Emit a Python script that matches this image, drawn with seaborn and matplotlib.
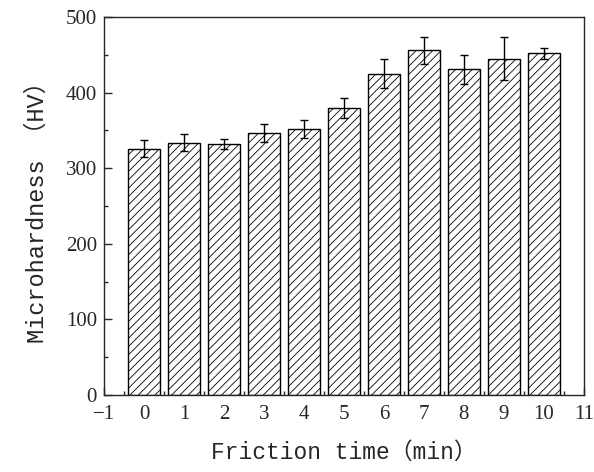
import matplotlib
matplotlib.use('Agg')
import matplotlib.pyplot as plt
from matplotlib.ticker import MultipleLocator
import seaborn as sns
import pandas as pd

# friction time (min) and measured microhardness (HV)
times = [0, 1, 2, 3, 4, 5, 6, 7, 8, 9, 10]
hardness = [326, 334, 332, 347, 352, 380, 425, 456, 431, 445, 452]
errors = [11, 11, 6, 12, 12, 13, 19, 18, 19, 28, 7]

df = pd.DataFrame({'time': times, 'hv': hardness})

sns.set_style('ticks')
plt.rcParams['font.family'] = ['Liberation Serif', 'Noto Sans CJK SC']
plt.rcParams['hatch.linewidth'] = 0.6

fig = plt.figure(figsize=(5.94, 4.72), dpi=100)
ax = fig.add_axes([0.175, 0.163, 0.808, 0.801])

sns.barplot(data=df, x='time', y='hv', native_scale=True, color='white',
            edgecolor='black', linewidth=1.0, width=0.8, hatch='////', ax=ax)
ax.errorbar(times, hardness, yerr=errors, fmt='none', ecolor='black',
            elinewidth=1.0, capsize=3, capthick=1.0)

ax.set_xlim(-1, 11)
ax.set_ylim(0, 500)
ax.set_xticks(range(-1, 12))
ax.set_xticklabels(['\u22121'] + [str(i) for i in range(0, 12)])
ax.xaxis.set_minor_locator(MultipleLocator(0.5))
ax.yaxis.set_major_locator(MultipleLocator(100))
ax.yaxis.set_minor_locator(MultipleLocator(50))
ax.tick_params(which='both', direction='in', labelsize=15, width=1.0)
ax.tick_params(which='major', length=6)
ax.tick_params(which='minor', length=3)
ax.tick_params(axis='x', which='major', pad=7)
ax.tick_params(axis='y', which='major', pad=5)
for s in ax.spines.values():
    s.set_linewidth(1.0)
    s.set_visible(True)

lab_font = ['Liberation Mono', 'Noto Sans CJK SC']
ax.set_xlabel('Friction time\uff08min\uff09', fontsize=16.5, family=lab_font, labelpad=12)
ax.set_ylabel('Microhardness \uff08HV\uff09', fontsize=17, family=lab_font, labelpad=12)

fig.savefig('out.png', dpi=100)
